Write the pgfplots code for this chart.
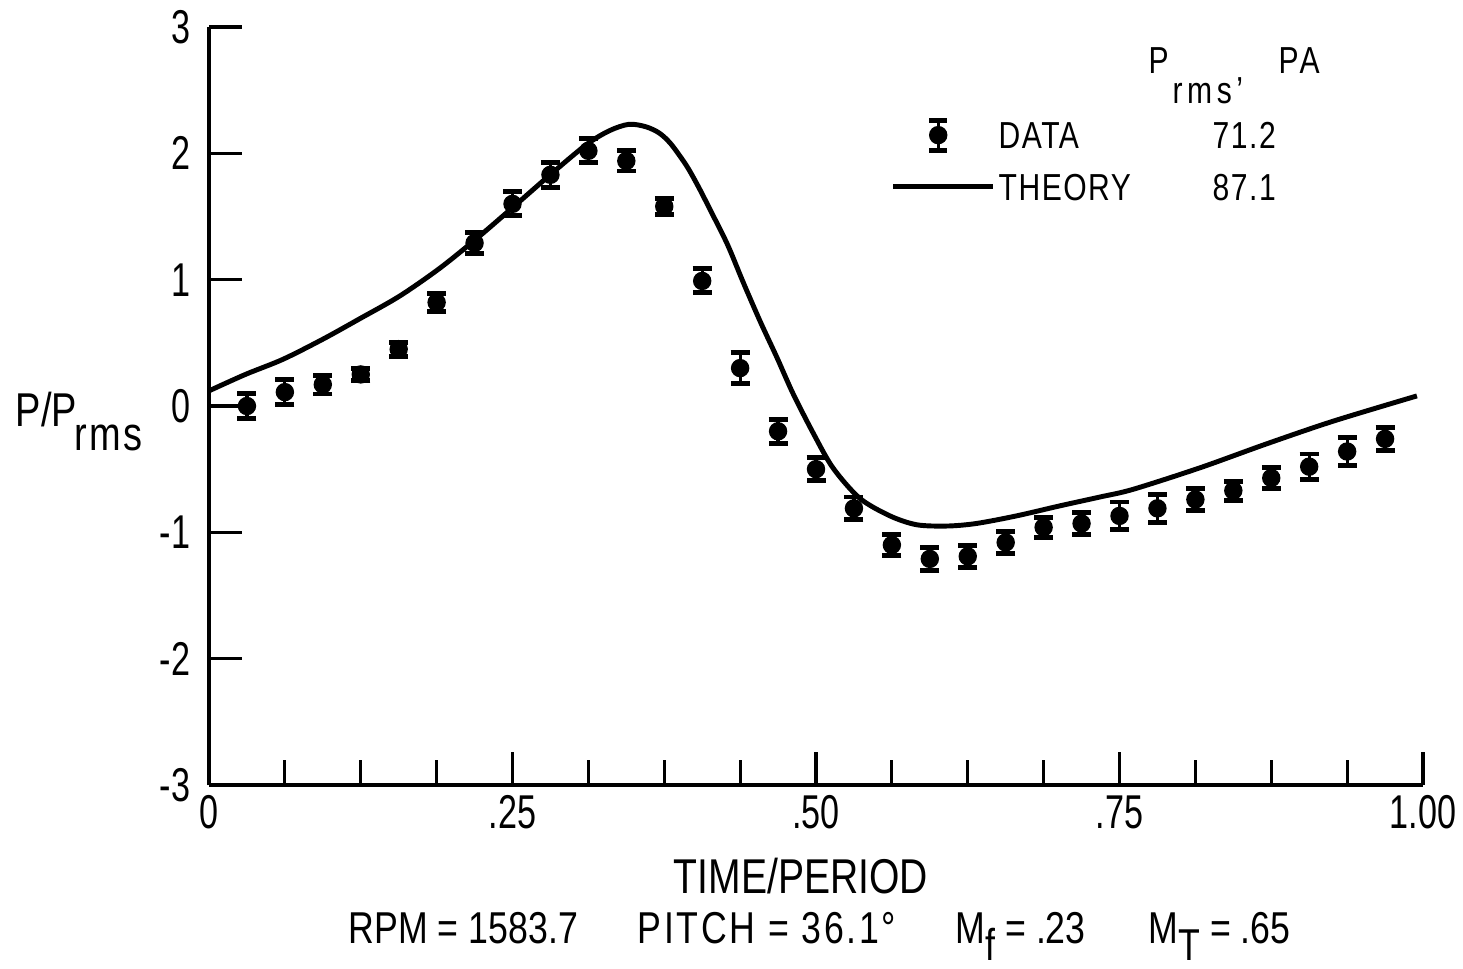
\documentclass[border=0pt]{standalone}
\usepackage{fontspec}
\setmainfont{Liberation Sans}[FakeStretch=0.8]
\newfontfamily\tickfont{Liberation Sans}[FakeStretch=0.72]
\usepackage{pgfplots}
\usepackage{pgfplotstable}
\pgfplotsset{compat=1.18}

\pgfplotstableread{
x y e
0.03125 0.00 0.10
0.0625 0.11 0.10
0.09375 0.17 0.075
0.125 0.25 0.05
0.15625 0.45 0.055
0.1875 0.82 0.07
0.21875 1.29 0.08
0.25 1.60 0.095
0.28125 1.83 0.10
0.3125 2.02 0.095
0.34375 1.94 0.08
0.375 1.58 0.065
0.40625 0.99 0.095
0.4375 0.30 0.12
0.46875 -0.20 0.095
0.5 -0.50 0.09
0.53125 -0.81 0.09
0.5625 -1.10 0.08
0.59375 -1.21 0.09
0.625 -1.19 0.085
0.65625 -1.08 0.085
0.6875 -0.96 0.08
0.71875 -0.93 0.085
0.75 -0.87 0.11
0.78125 -0.81 0.11
0.8125 -0.74 0.09
0.84375 -0.67 0.075
0.875 -0.57 0.08
0.90625 -0.48 0.10
0.9375 -0.36 0.11
0.96875 -0.26 0.09
}\datatab

\pgfplotstableread{
x y
0.000 0.12
0.030 0.25
0.061 0.37
0.094 0.53
0.124 0.69
0.157 0.87
0.190 1.09
0.221 1.33
0.250 1.57
0.281 1.83
0.311 2.07
0.330 2.18
0.346 2.23
0.360 2.21
0.371 2.16
0.380 2.08
0.390 1.95
0.396 1.86
0.404 1.72
0.413 1.55
0.427 1.28
0.440 0.98
0.454 0.67
0.468 0.38
0.481 0.10
0.498 -0.22
0.514 -0.49
0.536 -0.73
0.561 -0.87
0.583 -0.94
0.608 -0.95
0.632 -0.93
0.665 -0.87
0.701 -0.79
0.734 -0.72
0.761 -0.66
0.816 -0.49
0.871 -0.30
0.926 -0.12
0.995 0.08
}\theorytab

\begin{document}
\begin{tikzpicture}
\begin{axis}[
  scale only axis, width=121.4mm, height=75.8mm,
  xmin=0, xmax=1, ymin=-3, ymax=3,
  axis lines=left, axis line style={-, line width=1.4pt},
  tick align=inside,
  xtick={0,0.25,0.5,0.75,1}, xticklabels={0,.25,.50,.75,1.00},
  minor xtick={0.0625,0.125,0.1875,0.3125,0.375,0.4375,0.5625,0.625,0.6875,0.8125,0.875,0.9375},
  ytick={-3,-2,-1,0,1,2,3}, yticklabels={-3,-2,-1,0,1,2,3},
  major tick length=3.3mm, minor tick length=2.5mm,
  tick style={black, line width=0.9pt},
  ticklabel style={font=\tickfont\fontsize{13.5pt}{16pt}\selectfont},
  xticklabel style={inner sep=0pt, yshift=-1mm},
  yticklabel style={inner sep=0pt, xshift=-1.8mm},
  legend style={at={(axis cs:0.561,2.288)}, anchor=north west, draw=none, fill=none,
    inner sep=0pt, row sep=2.0mm, column sep=0.3mm,
    font=\fontsize{10.7pt}{12pt}\selectfont\addfontfeature{LetterSpace=4},
    nodes={inner sep=0pt, text depth=0pt}},
  legend cell align=left,
]
\addplot[only marks, black, mark=*, mark size=0.85mm,
  legend image code/.code={
    \path[draw=none, fill=none] (0mm,0mm) -- (10mm,0mm);
    \draw[line width=0.9pt, solid] (4.5mm,-1.5mm) -- (4.5mm,1.5mm);
    \draw[line width=1.4pt, solid] (3.6mm,-1.5mm) -- (5.4mm,-1.5mm) (3.6mm,1.5mm) -- (5.4mm,1.5mm);
    \fill[black] (4.5mm,0mm) circle (0.85mm);
  },
  error bars/.cd, y dir=both, y explicit,
  error bar style={line width=0.9pt, black},
  error mark options={rotate=90, line width=1.4pt, mark size=0.95mm, black}]
  table[x=x, y=y, y error=e] {\datatab};
\addlegendentry{\rule{0pt}{2.75mm}\makebox[21.4mm][l]{DATA}71.2}
\addplot[black, line width=1.4pt, smooth,
  legend image code/.code={\draw[line width=1.4pt] (0mm,0mm) -- (10mm,0mm);}]
  table[x=x, y=y] {\theorytab};
\addlegendentry{\rule{0pt}{2.75mm}\makebox[21.4mm][l]{THEORY}87.1}
\end{axis}
\begin{scope}[shift={(current axis.south west)}, x=0.1mm, y=-0.1mm, shift={(-209,-785)}]
  % y label
  \node[anchor=base west, inner sep=0pt, font=\fontsize{13.5pt}{16pt}\selectfont] at (15,426) {P/P};
  \node[anchor=base west, inner sep=0pt, font=\fontsize{13.5pt}{16pt}\selectfont\addfontfeature{LetterSpace=5}] at (74,450) {rms};
  % x label
  \node[anchor=base, inner sep=0pt, font=\fontsize{13.9pt}{16pt}\selectfont] at (801,893) {TIME/PERIOD};
  % bottom line
  \node[anchor=base west, inner sep=0pt, font=\fontsize{12.7pt}{15pt}\selectfont] at (348,943) {RPM = 1583.7};
  \node[anchor=base west, inner sep=0pt, font=\fontsize{12.7pt}{15pt}\selectfont\addfontfeature{LetterSpace=6}] at (637,943) {PITCH = 36.1°};
  \node[anchor=base west, inner sep=0pt, font=\fontsize{12.7pt}{15pt}\selectfont] at (955,943) {M\raisebox{-1.7mm}{f} = .23};
  \node[anchor=base west, inner sep=0pt, font=\fontsize{12.7pt}{15pt}\selectfont] at (1148,943) {M\raisebox{-1.7mm}{T} = .65};
  % legend header
  \node[anchor=base west, inner sep=0pt, font=\fontsize{10.7pt}{12pt}\selectfont] at (1148,73) {P};
  \node[anchor=base west, inner sep=0pt, font=\fontsize{10.7pt}{12pt}\selectfont\addfontfeature{LetterSpace=12}] at (1172,103) {rms'};
  \node[anchor=base west, inner sep=0pt, font=\fontsize{10.7pt}{12pt}\selectfont\addfontfeature{LetterSpace=8}] at (1278,73) {PA};
  \pgfresetboundingbox
  \useasboundingbox (0,0) rectangle (1463,968);
\end{scope}
\end{tikzpicture}
\end{document}
